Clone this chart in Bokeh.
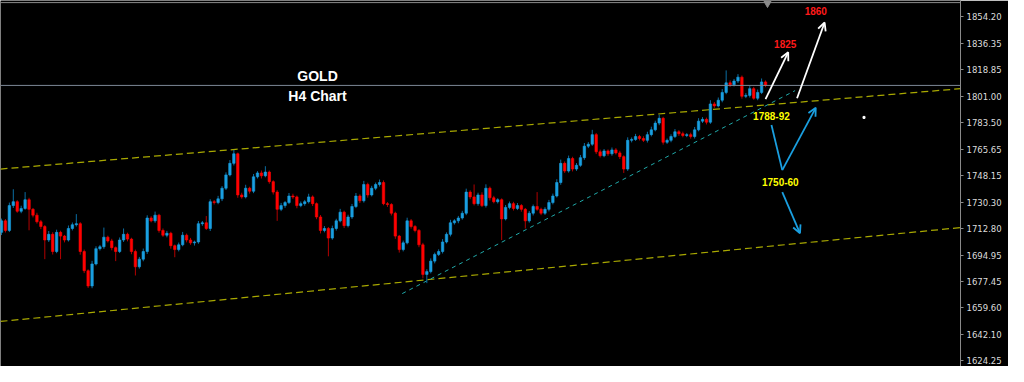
from bokeh.plotting import figure
from bokeh.models import (ColumnDataSource, FixedTicker, PrintfTickFormatter, Span, Arrow,
                          OpenHead)
from bokeh.core.properties import value
from bokeh.embed import file_html
from bokeh.resources import INLINE

# ---------------- data (GOLD, H4) ----------------
first_open = 1710.1
close = [
    1717.8, 1711.4, 1728.0, 1730.6, 1724.2, 1726.1, 1731.9, 1725.5, 1721.6, 1717.2,
    1714.0, 1705.0, 1708.8, 1697.3, 1710.1, 1707.6, 1705.0, 1712.7, 1715.2, 1715.9,
    1697.3, 1684.5, 1674.3, 1689.0, 1699.2, 1700.5, 1706.9, 1704.4, 1699.9, 1697.3,
    1705.0, 1708.8, 1705.6, 1697.3, 1687.1, 1692.2, 1697.3, 1719.7, 1717.8, 1721.6,
    1711.4, 1708.2, 1709.5, 1701.2, 1698.6, 1701.8, 1708.2, 1705.0, 1703.1, 1703.7,
    1715.9, 1716.5, 1712.7, 1730.6, 1730.0, 1732.5, 1739.6, 1748.5, 1756.2, 1762.6,
    1735.1, 1733.8, 1739.6, 1737.6, 1747.2, 1749.8, 1747.9, 1750.4, 1744.0, 1737.0,
    1725.5, 1728.0, 1730.0, 1734.4, 1733.8, 1728.0, 1729.3, 1730.6, 1733.8, 1729.3,
    1720.4, 1711.4, 1712.7, 1706.3, 1712.7, 1717.8, 1723.6, 1714.6, 1720.4, 1727.4,
    1734.4, 1731.2, 1742.1, 1735.1, 1739.6, 1742.1, 1743.4, 1729.3, 1728.7, 1722.9,
    1707.6, 1698.6, 1703.1, 1717.8, 1714.0, 1711.4, 1701.8, 1682.0, 1683.9, 1690.9,
    1695.4, 1697.3, 1703.7, 1708.8, 1716.5, 1717.8, 1719.7, 1722.9, 1737.0, 1733.8,
    1729.3, 1735.1, 1728.0, 1739.6, 1733.2, 1730.6, 1731.9, 1719.1, 1726.8, 1729.3,
    1726.1, 1728.0, 1725.5, 1717.8, 1722.9, 1727.4, 1725.5, 1722.9, 1725.5, 1730.0,
    1734.4, 1743.4, 1756.2, 1751.1, 1759.4, 1752.4, 1754.9, 1760.0, 1767.7, 1769.0,
    1775.4, 1763.9, 1761.3, 1764.5, 1762.6, 1765.2, 1763.2, 1760.7, 1752.4, 1771.6,
    1772.2, 1774.1, 1772.8, 1771.6, 1775.4, 1778.6, 1783.1, 1786.3, 1770.3, 1771.6,
    1774.1, 1777.3, 1776.0, 1774.8, 1775.4, 1774.1, 1778.6, 1784.4, 1785.6, 1783.7,
    1795.9, 1794.6, 1798.4, 1803.6, 1810.0, 1808.7, 1811.2, 1813.8, 1801.0, 1801.6,
    1806.1, 1799.7, 1803.6, 1810.6, 1808.3]
upper_wick = [
    1.5, 1.2, 2.0, 8.3, 1.0, 1.8, 5.1, 1.3, 0.9, 1.6,
    1.2, 1.0, 2.2, 1.4, 1.8, 1.1, 0.8, 2.0, 1.5, 6.4,
    1.0, 1.3, 0.9, 2.1, 1.6, 1.2, 6.4, 1.0, 1.4, 0.8,
    1.7, 3.9, 1.1, 0.9, 1.3, 1.5, 2.0, 1.8, 1.2, 2.4,
    0.9, 1.3, 1.6, 1.0, 0.8, 1.5, 2.2, 1.1, 1.4, 0.9,
    1.8, 1.2, 4.5, 1.6, 1.1, 2.0, 1.4, 1.7, 2.2, 2.6,
    0.8, 1.5, 2.3, 1.0, 1.9, 1.2, 1.6, 3.9, 1.0, 0.9,
    1.3, 1.8, 1.1, 2.0, 1.5, 0.9, 1.4, 1.2, 2.1, 1.0,
    0.8, 1.3, 1.6, 1.0, 1.9, 1.4, 2.2, 1.0, 1.5, 1.7,
    2.0, 1.1, 2.4, 1.2, 1.6, 1.3, 2.0, 1.4, 1.1, 0.9,
    1.0, 0.8, 1.5, 2.1, 1.2, 1.0, 0.9, 1.3, 1.6, 1.8,
    1.2, 1.5, 1.9, 1.3, 2.0, 1.1, 1.4, 1.6, 2.3, 1.2,
    8.3, 1.5, 1.8, 2.6, 1.1, 1.3, 1.0, 0.9, 1.6, 1.4,
    1.2, 1.7, 1.0, 0.9, 1.5, 1.3, 9.6, 1.1, 1.4, 1.8,
    1.6, 2.2, 2.5, 1.3, 2.0, 1.2, 1.5, 1.8, 2.1, 1.4,
    3.2, 1.1, 1.5, 1.3, 1.0, 1.6, 1.2, 1.4, 0.9, 2.0,
    1.3, 1.8, 1.1, 1.5, 1.9, 2.1, 1.6, 2.4, 1.0, 1.2,
    1.5, 1.8, 1.1, 1.4, 1.0, 1.3, 1.9, 2.0, 1.5, 1.2,
    2.5, 1.3, 1.8, 2.2, 8.3, 1.6, 1.4, 2.0, 1.1, 1.5,
    1.7, 1.2, 1.9, 2.3, 1.0]
lower_wick = [
    1.8, 1.4, 1.1, 1.6, 1.0, 1.3, 0.9, 14.0, 1.5, 1.2,
    1.7, 12.8, 1.3, 2.0, 1.1, 15.4, 1.6, 1.0, 1.3, 1.2,
    2.1, 1.6, 1.3, 1.5, 1.0, 1.2, 1.4, 1.1, 1.8, 6.4,
    1.0, 1.3, 1.5, 1.8, 5.8, 1.2, 1.4, 1.6, 1.0, 1.3,
    1.5, 1.1, 1.4, 2.0, 5.1, 1.2, 1.0, 1.6, 1.3, 1.8,
    1.2, 1.4, 1.0, 1.7, 1.3, 1.1, 1.5, 1.2, 1.0, 1.4,
    1.9, 1.2, 1.0, 1.6, 1.3, 1.1, 1.8, 1.0, 1.4, 1.6,
    7.7, 1.2, 1.5, 1.0, 1.3, 1.8, 1.1, 1.4, 1.2, 1.6,
    1.5, 2.0, 1.3, 12.2, 1.1, 1.4, 1.0, 1.6, 1.2, 1.3,
    1.1, 1.5, 1.2, 1.8, 1.0, 1.3, 1.4, 1.1, 1.6, 1.5,
    1.8, 2.0, 1.2, 1.0, 1.4, 1.3, 1.6, 2.6, 5.8, 1.2,
    1.5, 1.1, 1.3, 1.0, 1.4, 1.2, 1.6, 1.1, 1.3, 1.5,
    1.2, 1.4, 1.0, 1.3, 1.8, 1.1, 1.2, 14.1, 1.0, 1.3,
    1.4, 1.1, 1.6, 5.1, 1.2, 1.5, 1.0, 1.3, 1.1, 1.4,
    1.2, 1.0, 1.5, 1.3, 1.1, 1.6, 1.2, 1.0, 1.4, 1.3,
    1.1, 1.5, 1.2, 1.0, 1.4, 1.3, 1.1, 1.6, 2.6, 1.2,
    1.4, 1.0, 1.3, 1.1, 1.5, 1.2, 1.0, 1.4, 1.6, 1.1,
    1.3, 1.0, 1.5, 1.2, 1.1, 1.4, 1.3, 1.0, 1.2, 1.5,
    1.1, 1.3, 1.0, 1.4, 1.2, 1.5, 1.1, 1.3, 1.6, 1.2,
    1.4, 1.0, 1.3, 1.1, 1.2]

axis_ticks = [1854.20, 1836.35, 1818.85, 1801.00, 1783.50, 1765.65, 1748.15,
              1730.30, 1712.80, 1694.95, 1677.45, 1659.60, 1642.10, 1624.25]
last_price = 1808.27

# channel / trend lines: (bar index, price) endpoints
upper_channel = ([-0.25, 243.5], [1752.4, 1806.1])
lower_channel = ([-0.25, 243.5], [1650.6, 1713.3])
trend_line = ([101.75, 201.5], [1669.2, 1804.8])

title_lines = ["GOLD", "H4 Chart"]
targets_up = ["1825", "1860"]
zones = ["1788-92", "1750-60"]

# ---------------- derived OHLC ----------------
open_ = [first_open] + close[:-1]
n = len(close)
idx = list(range(n))
high = [max(o, c) + w for o, c, w in zip(open_, close, upper_wick)]
low = [min(o, c) - w for o, c, w in zip(open_, close, lower_wick)]
BULL = "#1a9fe0"
BEAR = "#ff0000"
color = [BULL if c >= o else BEAR for o, c in zip(open_, close)]
wick_color = ["#0b6ea3" if c >= o else "#b30000" for o, c in zip(open_, close)]
top = [max(o, c) for o, c in zip(open_, close)]
bot = [min(o, c) for o, c in zip(open_, close)]
src = ColumnDataSource(dict(x=idx, top=top, bot=bot, high=high, low=low,
                            color=color, wick=wick_color))

p = figure(width=1008, height=366, x_range=(-0.25, 243.5), y_range=(1620.5, 1865.0),
           output_backend="svg", toolbar_location=None,
           background_fill_color="black", border_fill_color="black",
           min_border_left=0, min_border_right=48, min_border_top=0, min_border_bottom=0,
           outline_line_color=None, y_axis_location="right")
p.xaxis.visible = False
p.grid.visible = False

ax = p.yaxis[0]
ax.ticker = FixedTicker(ticks=axis_ticks)
ax.formatter = PrintfTickFormatter(format="%.2f")
ax.axis_line_color = "#8a8a8a"
ax.major_tick_line_color = "#8a8a8a"
ax.major_tick_out = 3
ax.major_tick_in = 0
ax.minor_tick_line_color = None
ax.major_label_text_color = "#dcdcdc"
ax.major_label_text_font = "DejaVu Sans"
ax.major_label_text_font_size = "8.5px"
ax.major_label_standoff = 3

# top border line and current price line
p.add_layout(Span(location=1863.6, dimension="width", line_color="#8a8a8a", line_width=1))
p.add_layout(Span(location=last_price, dimension="width", line_color="#7d8896", line_width=1))

# channel lines
p.line(upper_channel[0], upper_channel[1], line_color="#a8a800", line_width=1.2, line_dash="7 4")
p.line(lower_channel[0], lower_channel[1], line_color="#a8a800", line_width=1.2, line_dash="7 4")
p.line(trend_line[0], trend_line[1], line_color="#20a8a8", line_width=1, line_dash="4 4")

# candles
p.segment(x0="x", x1="x", y0="low", y1="high", line_color="wick", line_width=1, source=src)
p.vbar(x="x", width=0.62, top="top", bottom="bot", fill_color="color", line_color="color",
       line_width=0.6, source=src)

# shift marker at top
p.scatter([194.5], [1863.0], marker="inverted_triangle", size=7, fill_color="#8a8a8a",
          line_color="#8a8a8a")

# title texts
p.text([80.25], [1814.4], text=[title_lines[0]], text_color="white", text_align="center",
       text_baseline="middle", text_font=value("Liberation Sans"), text_font_style="bold",
       text_font_size="14px")
p.text([80.25], [1801.0], text=[title_lines[1]], text_color="white", text_align="center",
       text_baseline="middle", text_font=value("Liberation Sans"), text_font_style="bold",
       text_font_size="14px")

# white up arrows
for xs, ys, xe, ye in [(194.0, 1799.1, 199.75, 1830.4), (202.0, 1799.7, 209.0, 1850.3)]:
    p.add_layout(Arrow(end=OpenHead(size=8, line_color="white", line_width=1.8),
                       x_start=xs, y_start=ys, x_end=xe, y_end=ye,
                       line_color="white", line_width=1.8))
p.text([199.0, 206.75], [1836.2, 1858.0], text=targets_up, text_color="#ff1a1a",
       text_align="center", text_baseline="middle", text_font=value("Liberation Sans"),
       text_font_style="bold", text_font_size="10px")

# blue scenario arrows
p.line([195.5, 198.25], [1781.8, 1751.7], line_color="#1a9fe0", line_width=1.8)
for xs, ys, xe, ye in [(198.25, 1751.7, 206.75, 1793.3), (198.25, 1737.0, 202.75, 1709.5)]:
    p.add_layout(Arrow(end=OpenHead(size=8, line_color="#1a9fe0", line_width=1.8),
                       x_start=xs, y_start=ys, x_end=xe, y_end=ye,
                       line_color="#1a9fe0", line_width=1.8))
p.text([195.5, 197.75], [1787.6, 1744.0], text=zones, text_color="#ffff00",
       text_align="center", text_baseline="middle", text_font=value("Liberation Sans"),
       text_font_style="bold", text_font_size="10px")

# small white dot
p.scatter([219.0], [1786.9], marker="square", size=2, fill_color="white", line_color="white")

open("out.html", "w").write(file_html(p, INLINE))
